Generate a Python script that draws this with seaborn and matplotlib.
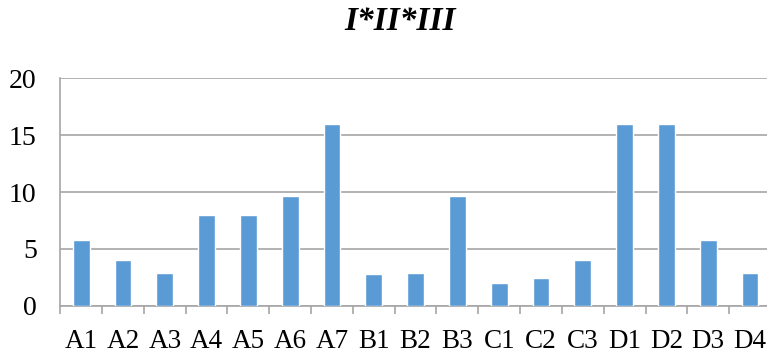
import matplotlib
matplotlib.use("Agg")
import matplotlib.pyplot as plt
import seaborn as sns
import pandas as pd

categories = ["A1", "A2", "A3", "A4", "A5", "A6", "A7", "B1", "B2", "B3",
              "C1", "C2", "C3", "D1", "D2", "D3", "D4"]
values = [5.75, 4.0, 2.9, 8.0, 8.0, 9.62, 16.0, 2.8, 2.9, 9.62,
          2.02, 2.4, 4.0, 16.0, 16.0, 5.75, 2.9]
yticks = [0, 5, 10, 15, 20]
title = "I*II*III"

df = pd.DataFrame({"cat": categories, "val": values})

sns.set_theme(style="white")
plt.rcParams["font.family"] = ["Liberation Serif", "DejaVu Serif"]
plt.rcParams["text.color"] = "black"
plt.rcParams["xtick.color"] = "black"
plt.rcParams["ytick.color"] = "black"

W, H = 767, 354
fig = plt.figure(figsize=(W / 100, H / 100), dpi=100)
left = 60.3 / W
width = 17 * 41.8 / W
bottom = (H - 305.7) / H
height = 227.4 / H
ax = fig.add_axes([left, bottom, width, height])

sns.barplot(data=df, x="cat", y="val", color="#5B9BD5", saturation=1,
            width=0.4, ax=ax, zorder=3)

ax.set_ylim(0, 20)
ax.set_xlim(-0.5, len(categories) - 0.5)
ax.set_yticks(yticks)
ax.set_yticklabels([str(t) for t in yticks], fontsize=20, color="black")
ax.tick_params(axis="y", length=0, pad=17)
ax.grid(axis="y", color="#A6A6A6", linewidth=1.2, zorder=0)
ax.set_axisbelow(True)

ax.set_xticks([i - 0.5 for i in range(len(categories) + 1)], minor=False)
ax.set_xticklabels([])
ax.set_xticks(range(len(categories)), minor=True)
ax.set_xticklabels(categories, minor=True, fontsize=19.5, color="black")
ax.tick_params(axis="x", which="major", length=6, width=1.2, color="#A6A6A6",
               direction="out", bottom=True)
ax.tick_params(axis="x", which="minor", length=0, pad=17, bottom=True)

for s in ["top", "right"]:
    ax.spines[s].set_visible(False)
for s in ["left", "bottom"]:
    ax.spines[s].set_color("#A6A6A6")
    ax.spines[s].set_linewidth(1.2)

ax.set_xlabel("")
ax.set_ylabel("")
fig.text(400 / W, 1 - 22 / H, title, ha="center", va="center",
         fontsize=24, fontweight="bold", fontstyle="italic", color="black")

fig.savefig("out.png", dpi=100)
